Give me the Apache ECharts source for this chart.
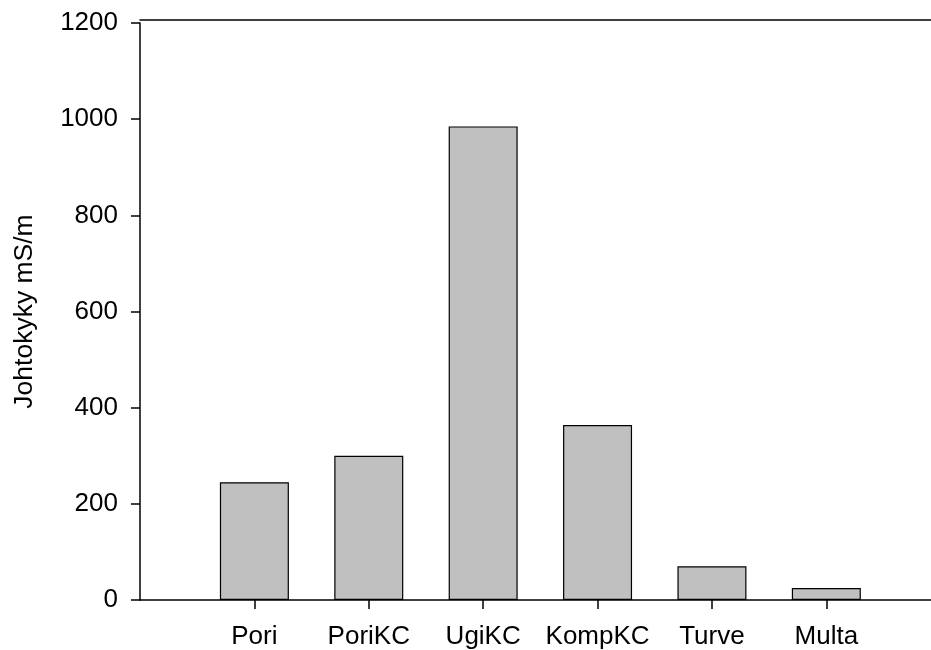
<!DOCTYPE html>
<html>
<head>
<meta charset="utf-8">
<script src="https://cdn.jsdelivr.net/npm/echarts@6/dist/echarts.min.js"></script>
<style>html,body{margin:0;padding:0;background:#fff;}#c{width:931px;height:650px;}</style>
</head>
<body>
<div id="c"></div>
<script>
var categories = ['Pori', 'PoriKC', 'UgiKC', 'KompKC', 'Turve', 'Multa'];
var positions = [1, 2, 3, 4, 5, 6];
var values = [245, 300, 985, 364, 70, 25];
var yTicks = [0, 200, 400, 600, 800, 1000, 1200];
var yTitle = 'Johtokyky mS/m';

var seriesData = positions.map(function (p, i) { return [p, values[i]]; });

var chart = echarts.init(document.getElementById('c'), null, {renderer: 'canvas'});
var font = 'Liberation Sans, Arial, sans-serif';
chart.setOption({
  animation: false,
  backgroundColor: '#fff',
  grid: {left: 140, right: 0, top: 23, bottom: 50, containLabel: false},
  xAxis: [{
    type: 'value',
    min: 0,
    max: 6.915,
    axisLine: {show: true, onZero: false, lineStyle: {color: '#000', width: 1.5}},
    axisTick: {show: true, length: 9, customValues: positions, lineStyle: {color: '#000', width: 1.5}},
    axisLabel: {show: true, customValues: positions, margin: 24, color: '#000', fontSize: 26, fontFamily: font,
      formatter: function (v) { var i = positions.indexOf(Math.round(v)); return i >= 0 ? categories[i] : ''; }},
    splitLine: {show: false}
  }, {
    type: 'value',
    min: 0,
    max: 6.915,
    position: 'top',
    offset: 3,
    axisLine: {show: true, onZero: false, lineStyle: {color: '#000', width: 1.5}},
    axisTick: {show: false},
    axisLabel: {show: false},
    splitLine: {show: false}
  }],
  yAxis: {
    type: 'value',
    min: yTicks[0],
    max: yTicks[yTicks.length - 1],
    interval: 200,
    name: yTitle,
    nameLocation: 'middle',
    nameGap: 102,
    nameRotate: 90,
    nameTextStyle: {color: '#000', fontSize: 26.5, fontFamily: font},
    axisLine: {show: true, lineStyle: {color: '#000', width: 1.5}},
    axisTick: {show: true, length: 9, lineStyle: {color: '#000', width: 1.5}},
    axisLabel: {margin: 22, color: '#000', fontSize: 26, fontFamily: font, formatter: function (v) { return String(v); }},
    splitLine: {show: false}
  },
  series: [{
    type: 'bar',
    xAxisIndex: 0,
    data: seriesData,
    barWidth: 69,
    itemStyle: {color: '#c0c0c0', borderColor: '#000', borderWidth: 1.2}
  }]
});
</script>
</body>
</html>
